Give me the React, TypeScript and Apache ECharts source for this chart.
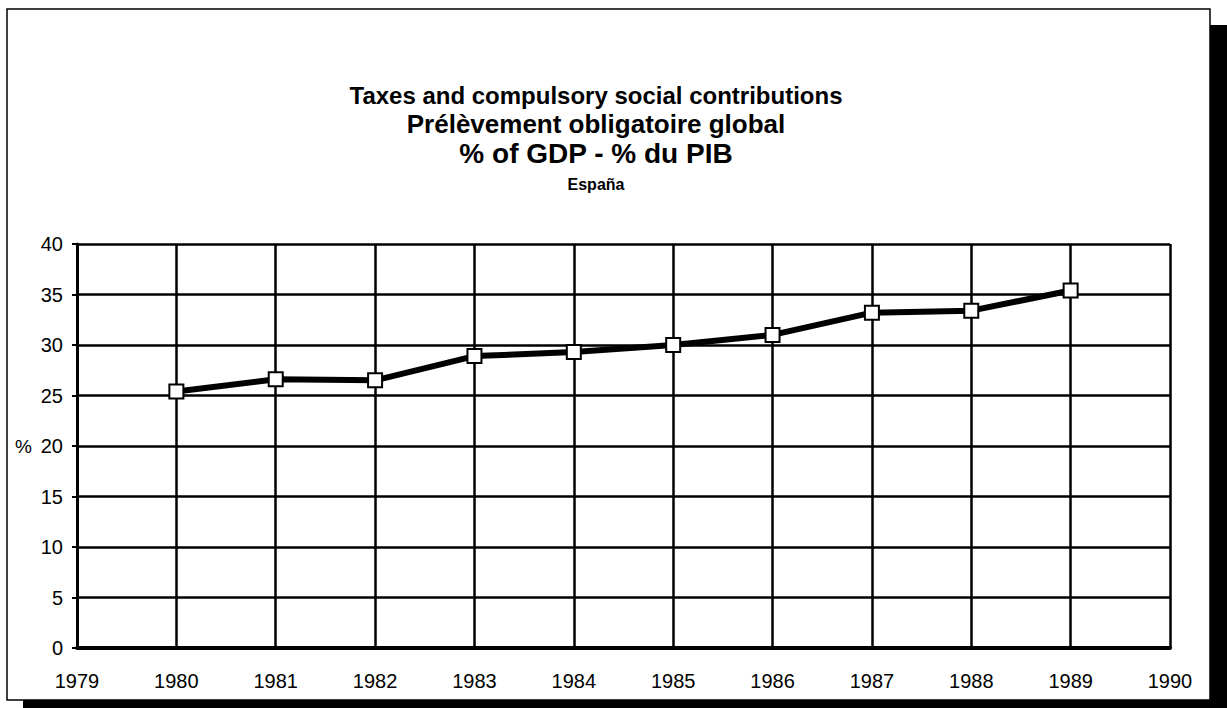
import React, { useEffect, useRef } from "react";
import * as echarts from "echarts";

const years = [1980, 1981, 1982, 1983, 1984, 1985, 1986, 1987, 1988, 1989];
const values = [25.4, 26.6, 26.5, 28.9, 29.3, 30.0, 31.0, 33.2, 33.4, 35.4];
const titleLines = [
  "Taxes and compulsory social contributions",
  "Prélèvement obligatoire global",
  "% of GDP - % du PIB",
];
const subtitle = "España";
const yName = "%";

const FONT = "'Liberation Sans', Arial, Helvetica, sans-serif";

export default function App() {
  const ref = useRef<HTMLDivElement>(null);
  useEffect(() => {
    if (!ref.current) return;
    const chart = echarts.init(ref.current, null, { renderer: "svg" });
    const titleY = [95, 124, 153];
    const titleSize = [24, 26, 28];
    chart.setOption({
      animation: false,
      backgroundColor: "#ffffff",
      textStyle: { fontFamily: FONT },
      graphic: [
        {
          type: "rect",
          z: -10,
          silent: true,
          shape: { x: 23, y: 25, width: 1204, height: 683 },
          style: { fill: "#000" },
        },
        {
          type: "rect",
          z: -9,
          silent: true,
          shape: { x: 7, y: 9, width: 1203, height: 691 },
          style: { fill: "#fff", stroke: "#000", lineWidth: 1.5 },
        },
        ...titleLines.map((t, i) => ({
          type: "text",
          x: 596,
          y: titleY[i],
          style: {
            text: t,
            fontFamily: FONT,
            fontWeight: "bold",
            fontSize: titleSize[i],
            fill: "#000",
            textAlign: "center",
            textVerticalAlign: "middle",
          },
        })),
        {
          type: "text",
          x: 596,
          y: 184,
          style: {
            text: subtitle,
            fontFamily: FONT,
            fontWeight: "bold",
            fontSize: 16,
            fill: "#000",
            textAlign: "center",
            textVerticalAlign: "middle",
          },
        },
        {
          type: "text",
          x: 15,
          y: 446,
          style: {
            text: yName,
            fontFamily: FONT,
            fontSize: 19,
            fill: "#000",
            textAlign: "left",
            textVerticalAlign: "middle",
          },
        },
      ],
      grid: { left: 77, right: 57, top: 244, bottom: 60, containLabel: false },
      xAxis: {
        type: "value",
        min: 1979,
        max: 1990,
        interval: 1,
        axisLine: { show: true, lineStyle: { color: "#000", width: 4 } },
        axisTick: { show: false },
        splitLine: { show: true, lineStyle: { color: "#000", width: 2.5 } },
        axisLabel: {
          color: "#000",
          fontSize: 20,
          fontFamily: FONT,
          margin: 23,
          formatter: (v: number) => String(v),
        },
      },
      yAxis: {
        type: "value",
        min: 0,
        max: 40,
        interval: 5,
        axisLine: { show: true, lineStyle: { color: "#000", width: 3 } },
        axisTick: { show: true, length: 5, lineStyle: { color: "#000", width: 2 } },
        splitLine: { show: true, lineStyle: { color: "#000", width: 2.5 } },
        axisLabel: { color: "#000", fontSize: 20, fontFamily: FONT, margin: 14 },
      },
      series: [
        {
          type: "line",
          data: years.map((y, i) => [y, values[i]]),
          lineStyle: { color: "#000", width: 6 },
          symbol: "rect",
          symbolSize: 14,
          itemStyle: { color: "#fff", borderColor: "#000", borderWidth: 2 },
          z: 5,
        },
      ],
    });
    return () => chart.dispose();
  }, []);
  return (
    <div
      ref={ref}
      style={{ position: "absolute", left: 0, top: 0, width: 1227, height: 708 }}
    />
  );
}
